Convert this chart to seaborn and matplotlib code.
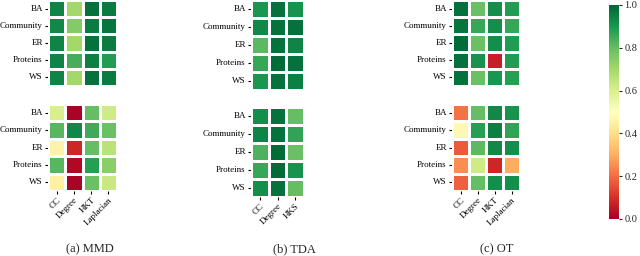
import numpy as np
import pandas as pd
import seaborn as sns
import matplotlib
matplotlib.use("Agg")
import matplotlib.pyplot as plt

rows = ["BA", "Community", "ER", "Proteins", "WS"]
cols4 = ["CC", "Degree", "HKT", "Laplacian"]
cols_tda = ["CC", "Degree", "HKS"]

mmd_top = [[0.94, 0.70, 0.98, 0.96],
           [0.93, 0.75, 0.96, 0.97],
           [0.94, 0.70, 0.98, 0.96],
           [0.94, 0.84, 0.95, 0.89],
           [0.94, 0.70, 0.98, 0.96]]
mmd_bot = [[0.60, 0.01, 0.80, 0.62],
           [0.82, 0.93, 0.85, 0.79],
           [0.46, 0.08, 0.80, 0.66],
           [0.82, 0.02, 0.88, 0.74],
           [0.45, 0.01, 0.79, 0.63]]
tda_top = [[0.90, 0.98, 0.91],
           [0.93, 0.98, 0.98],
           [0.81, 0.98, 0.94],
           [0.86, 0.99, 0.98],
           [0.90, 0.98, 0.95]]
tda_bot = [[0.92, 0.98, 0.80],
           [0.94, 0.98, 0.87],
           [0.83, 0.99, 0.79],
           [0.86, 0.99, 0.91],
           [0.92, 0.98, 0.80]]
ot_top = [[0.98, 0.79, 0.92, 0.89],
          [0.97, 0.86, 0.92, 0.86],
          [0.99, 0.79, 0.92, 0.89],
          [0.98, 0.91, 0.07, 0.89],
          [0.98, 0.79, 0.90, 0.88]]
ot_bot = [[0.21, 0.80, 0.93, 0.91],
          [0.48, 0.88, 0.95, 0.87],
          [0.17, 0.81, 0.93, 0.92],
          [0.25, 0.62, 0.08, 0.30],
          [0.18, 0.80, 0.92, 0.92]]
captions = ["(a) MMD", "(b) TDA", "(c) OT"]
cbar_ticks = [0.0, 0.2, 0.4, 0.6, 0.8, 1.0]

sns.set_theme(style="white")
plt.rcParams['font.family'] = ['Liberation Serif', 'DejaVu Serif']

fig = plt.figure(figsize=(6.4, 2.56), dpi=100)
W, H = 640, 256

def rect(x0, x1, y0, y1):
    return [x0 / W, 1 - y1 / H, (x1 - x0) / W, (y1 - y0) / H]

panels = [
    (mmd_top, mmd_bot, cols4, (48, 117), (0, 86), (104, 191), 90),
    (tda_top, tda_bot, cols_tda, (251, 304), (0, 90), (107, 197), 294),
    (ot_top, ot_bot, cols4, (452, 520), (0, 86), (104, 191), 497),
]
cax = fig.add_axes(rect(609, 619, 5, 219))
for i, (top, bot, cols, xr, ytop, ybot, capx) in enumerate(panels):
    for j, (data, yr) in enumerate([(top, ytop), (bot, ybot)]):
        ax = fig.add_axes(rect(xr[0], xr[1], yr[0], yr[1]))
        df = pd.DataFrame(data, index=rows, columns=cols)
        first = (i == 0 and j == 0)
        sns.heatmap(df, ax=ax, cmap="RdYlGn", vmin=0, vmax=1,
                    linewidths=1, linecolor="white",
                    xticklabels=cols, yticklabels=rows,
                    cbar=first, cbar_ax=cax if first else None)
        ax.tick_params(axis='both', length=2.5, width=0.8, pad=1.2, labelsize=6.5,
                       left=True, bottom=(j == 1), colors='black')
        for t in ax.get_yticklabels():
            t.set_rotation(0)
        if j == 0:
            ax.set_xticklabels([])
        else:
            for t in ax.get_xticklabels():
                t.set_rotation(45)
                t.set_ha('right')
                t.set_rotation_mode('anchor')
        ax.set_xlabel("")
        ax.set_ylabel("")
    fig.text(capx / W, 1 - 249 / H, captions[i], ha='center', va='center', fontsize=9)

cax.set_yticks(cbar_ticks)
cax.set_yticklabels([f"{t:.1f}" for t in cbar_ticks])
cax.tick_params(labelsize=7.5, length=2.5, width=0.8, pad=1.5, right=True)

fig.savefig("out.png", dpi=100)
